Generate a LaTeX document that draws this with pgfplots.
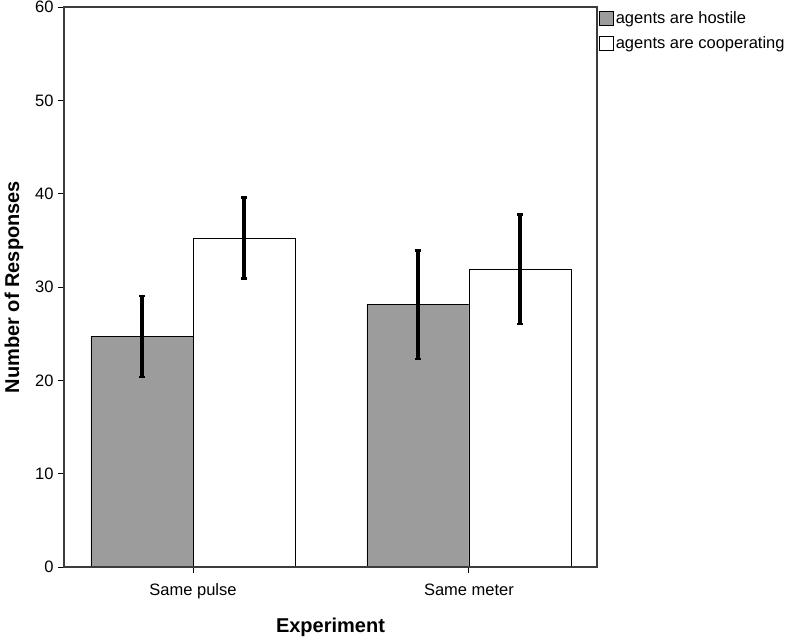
\documentclass[border=0pt]{standalone}
\usepackage{pgfplots}
\pgfplotsset{compat=1.18}
\usepackage{fontspec}
\setmainfont{Liberation Sans}
\definecolor{barGray}{RGB}{156,156,156}
\definecolor{axGray}{RGB}{60,60,60}
\begin{document}
\begin{tikzpicture}[x=1pt,y=1pt]
\begin{axis}[
  at={(0,0)}, anchor=south west,
  scale only axis,
  axis on top,
  width=533pt, height=560pt,
  xmin=-0.4674, xmax=1.4638,
  ymin=0, ymax=60,
  ytick={0,10,...,60},
  xtick={0,1},
  xticklabels={Same pulse, Same meter},
  ybar=0pt, bar width=0.3696,
  axis line style={axGray, line width=1.3pt},
  tick style={black, line width=1pt},
  major tick length=6pt,
  tick align=outside,
  xtick pos=bottom, ytick pos=left,
  ticklabel style={font=\fontsize{16.5}{18}\selectfont},
  /pgf/number format/assume math mode=true,
  yticklabel style={xshift=-1pt},
  xticklabel style={yshift=-7pt},
  xlabel={\textbf{Experiment}},
  ylabel={\textbf{Number of Responses}},
  label style={font=\fontsize{20}{22}\selectfont},
  xlabel style={yshift=-12pt},
  ylabel style={yshift=5pt},
  legend style={at={(1,1)}, anchor=north west, draw=none, fill=none,
    font=\fontsize{16.5}{18}\selectfont, row sep=8pt,
    inner xsep=2pt, inner ysep=2pt},
  legend cell align=left,
  legend image code/.code={\draw[#1, draw=black, line width=0.6pt] (0pt,-7pt) rectangle (14pt,7pt);},
]
\addplot[fill=barGray, draw=black, line width=0.8pt,
  error bars/.cd, y dir=both, y explicit,
  error bar style={line width=3.3pt, black},
  error mark options={rotate=90, mark size=3.2pt, line width=2.5pt, black}]
  coordinates {(0,24.7) +- (0,4.35) (1,28.1) +- (0,5.8)};
\addplot[fill=white, draw=black, line width=0.8pt,
  error bars/.cd, y dir=both, y explicit,
  error bar style={line width=3.3pt, black},
  error mark options={rotate=90, mark size=3.2pt, line width=2.5pt, black}]
  coordinates {(0,35.25) +- (0,4.35) (1,31.9) +- (0,5.85)};
\legend{agents are hostile, agents are cooperating}
\end{axis}
\pgfresetboundingbox
\path (-64pt,-71pt) rectangle (728pt,567pt);
\end{tikzpicture}
\end{document}
